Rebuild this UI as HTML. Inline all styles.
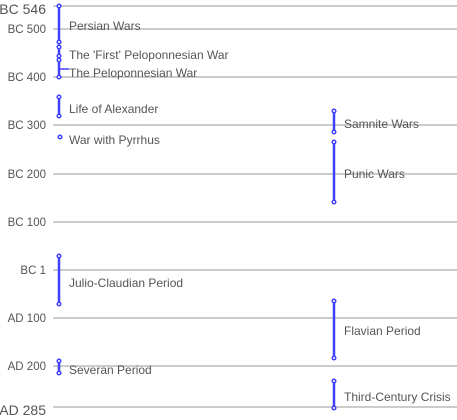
<!DOCTYPE html><html><head><style>body{margin:0;background:#fff}svg{display:block}text{font-family:"Liberation Sans",sans-serif;fill:#555}</style></head><body>
<svg width="457" height="420" xmlns="http://www.w3.org/2000/svg">
<g stroke="#ccc" stroke-width="2">
<line x1="53" y1="6" x2="457" y2="6"/><line x1="53" y1="29" x2="457" y2="29"/><line x1="53" y1="77" x2="457" y2="77"/><line x1="53" y1="125" x2="457" y2="125"/><line x1="53" y1="174" x2="457" y2="174"/><line x1="53" y1="222" x2="457" y2="222"/><line x1="53" y1="270" x2="457" y2="270"/><line x1="53" y1="318" x2="457" y2="318"/><line x1="53" y1="366" x2="457" y2="366"/><line x1="53" y1="407" x2="457" y2="407"/>
</g>
<g font-size="11.5" text-anchor="end">
<text x="46" y="33">BC 500</text><text x="46" y="81">BC 400</text><text x="46" y="129">BC 300</text><text x="46" y="178">BC 200</text><text x="46" y="226">BC 100</text><text x="46" y="274">BC 1</text><text x="46" y="322">AD 100</text><text x="46" y="370">AD 200</text>
<text x="46" y="14" font-size="14">BC 546</text><text x="46" y="415" font-size="14">AD 285</text>
</g>
<g stroke="#4040ff" stroke-width="2.5" fill="none">
<line x1="59" y1="6" x2="59" y2="42"/><line x1="59" y1="47" x2="59" y2="56"/><line x1="59" y1="60" x2="59" y2="77"/><line x1="59" y1="69" x2="69" y2="69" stroke-width="1.5"/>
<line x1="59" y1="97" x2="59" y2="116"/><line x1="59" y1="256" x2="59" y2="304"/><line x1="59" y1="361" x2="59" y2="373"/>
<line x1="334" y1="111" x2="334" y2="132"/><line x1="334" y1="142" x2="334" y2="202"/><line x1="334" y1="301" x2="334" y2="358"/><line x1="334" y1="381" x2="334" y2="408"/>
</g>
<g stroke="#4040ff" stroke-width="1.5" fill="#fff">
<circle cx="59" cy="6" r="1.8"/><circle cx="59" cy="42" r="1.8"/><circle cx="59" cy="47" r="1.8"/><circle cx="59" cy="56" r="1.8"/><circle cx="59" cy="60" r="1.8"/><circle cx="59" cy="77" r="1.8"/>
<circle cx="59" cy="97" r="1.8"/><circle cx="59" cy="116" r="1.8"/><circle cx="60" cy="137" r="1.8"/><circle cx="59" cy="256" r="1.8"/><circle cx="59" cy="304" r="1.8"/><circle cx="59" cy="361" r="1.8"/><circle cx="59" cy="373" r="1.8"/>
<circle cx="334" cy="111" r="1.8"/><circle cx="334" cy="132" r="1.8"/><circle cx="334" cy="142" r="1.8"/><circle cx="334" cy="202" r="1.8"/><circle cx="334" cy="301" r="1.8"/><circle cx="334" cy="358" r="1.8"/><circle cx="334" cy="381" r="1.8"/><circle cx="334" cy="408" r="1.8"/>
</g>
<g font-size="12">
<text x="69" y="30">Persian Wars</text><text x="69" y="59">The 'First' Peloponnesian War</text><text x="69" y="77">The Peloponnesian War</text><text x="69" y="113">Life of Alexander</text><text x="69" y="144">War with Pyrrhus</text><text x="69" y="287">Julio-Claudian Period</text><text x="69" y="374">Severan Period</text>
<text x="344" y="128">Samnite Wars</text><text x="344" y="178">Punic Wars</text><text x="344" y="335">Flavian Period</text><text x="344" y="401">Third-Century Crisis</text>
</g>
</svg></body></html>
